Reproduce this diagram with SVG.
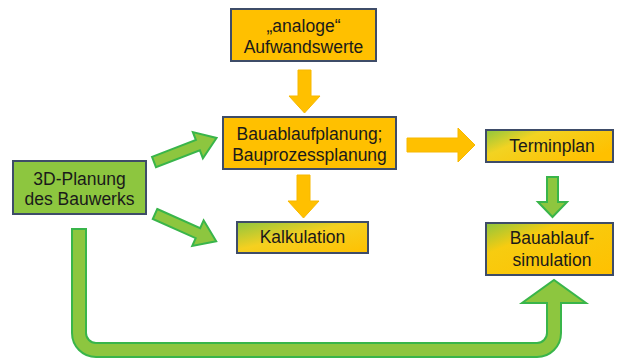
<svg xmlns="http://www.w3.org/2000/svg" width="619" height="360" viewBox="0 0 619 360">
  <defs>
    <linearGradient id="gradMix" x1="0" y1="0" x2="1" y2="1">
      <stop offset="0" stop-color="#8DC63F"/>
      <stop offset="0.45" stop-color="#F5D020"/>
      <stop offset="1" stop-color="#FFC000"/>
    </linearGradient>
    <linearGradient id="gradSim" x1="0" y1="0" x2="1" y2="1">
      <stop offset="0" stop-color="#8DC63F"/>
      <stop offset="0.3" stop-color="#F7CC10"/>
      <stop offset="1" stop-color="#FFC000"/>
    </linearGradient>
    <linearGradient id="gradTermin" x1="0" y1="0" x2="1" y2="0.6">
      <stop offset="0" stop-color="#8DC63F"/>
      <stop offset="0.35" stop-color="#F2D322"/>
      <stop offset="1" stop-color="#FFC000"/>
    </linearGradient>
  </defs>
  <style>
    .box { stroke: #3E4C68; stroke-width: 2; }
    .orange { fill: #FFC000; }
    .green { fill: #8DC63F; }
    .label { font-family: "Liberation Sans", Arial, sans-serif; font-size: 17.5px; fill: #1A1A1A; text-anchor: middle; }
    .arrO { fill: #FFC000; stroke: #F7B800; stroke-width: 1; }
    .arrG { fill: #8DC63F; stroke: #39B54A; stroke-width: 2; stroke-linejoin: miter; }
  </style>

  <g id="connectors">
    <!-- orange block arrows -->
    <path class="arrO" d="M298,70 H311 V96 H320 L304.5,113 L289,96 H298 Z"/>
    <path class="arrO" d="M297,175 H310 V201 H319 L303.5,218 L288,201 H297 Z"/>
    <path class="arrO" d="M407,138 H458 V128 L475,145 L458,162 V152 H407 Z"/>
    <!-- green block arrows -->
    <path class="arrG" d="M547,177 H558 V202 H567 L552.5,217 L538,202 H547 Z"/>
    <polygon class="arrG" transform="translate(154,162) rotate(-21)" points="0,-5.5 47,-5.5 47,-14 67,0 47,14 47,5.5 0,5.5"/>
    <polygon class="arrG" transform="translate(155,214) rotate(24)" points="0,-5.5 47,-5.5 47,-14 67,0 47,14 47,5.5 0,5.5"/>
    <!-- U-shaped return arrow into the simulation -->
    <path class="arrG" d="M72,229 H86 V333 A10,10 0 0 0 96,343 H537 A10,10 0 0 0 547,333 V303 H522 L554,280 L586,303 H561 V333 A24,24 0 0 1 537,357 H96 A24,24 0 0 1 72,333 Z"/>
  </g>

  <g id="analoge-aufwandswerte">
    <rect class="box orange" x="231" y="9" width="145" height="52"/>
    <text class="label" x="303.5" y="32">„analoge“</text>
    <text class="label" x="303.5" y="53">Aufwandswerte</text>
  </g>

  <g id="bauablaufplanung">
    <rect class="box orange" x="223" y="117" width="173" height="52"/>
    <text class="label" x="309.5" y="140">Bauablaufplanung;</text>
    <text class="label" x="309.5" y="161">Bauprozessplanung</text>
  </g>

  <g id="planung-bauwerk">
    <rect class="box green" x="13" y="161" width="133" height="53"/>
    <text class="label" x="79.5" y="185">3D-Planung</text>
    <text class="label" x="79.5" y="205">des Bauwerks</text>
  </g>

  <g id="kalkulation">
    <rect class="box" fill="url(#gradMix)" x="237" y="222" width="131" height="31"/>
    <text class="label" x="302.5" y="243">Kalkulation</text>
  </g>

  <g id="terminplan">
    <rect class="box" fill="url(#gradTermin)" x="486" y="130" width="127" height="32"/>
    <text class="label" x="552" y="152">Terminplan</text>
  </g>

  <g id="bauablaufsimulation">
    <rect class="box" fill="url(#gradSim)" x="486" y="223" width="127" height="52"/>
    <text class="label" x="552" y="244">Bauablauf-</text>
    <text class="label" x="552" y="266">simulation</text>
  </g>
</svg>
